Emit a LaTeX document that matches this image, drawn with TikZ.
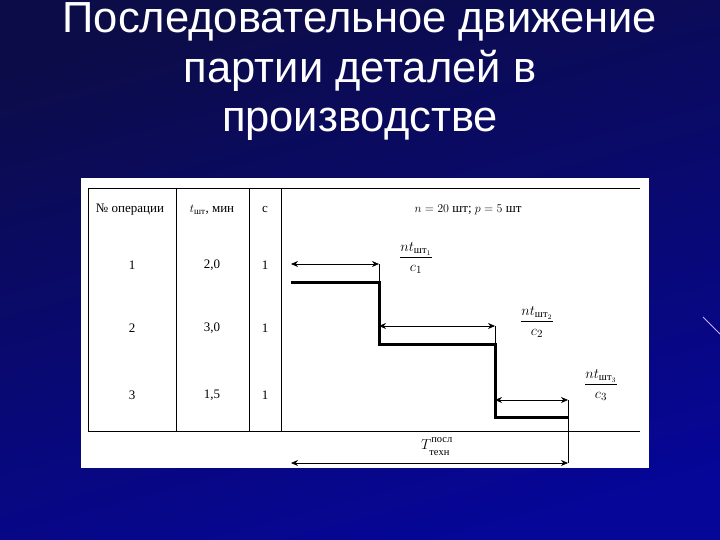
\documentclass[tikz,border=0pt]{standalone}
\usepackage{amsmath}
\usepackage{fontspec}
\setmainfont{Liberation Serif}
\newfontfamily\titlefont{Liberation Sans}
\usetikzlibrary{arrows.meta}
\definecolor{slidedark}{RGB}{12,12,72}
\definecolor{slidelight}{RGB}{6,6,152}
\definecolor{streak}{RGB}{205,175,255}
\tikzset{
  tabline/.style={black,line width=0.8pt},
  stepline/.style={black,line width=3pt},
  dimline/.style={black,line width=0.7pt,{Stealth[length=7pt,width=6pt]}-{Stealth[length=7pt,width=6pt]}},
  tick/.style={black,line width=0.7pt},
  cell/.style={font=\fontsize{13}{15}\selectfont,inner sep=1pt},
  mathcell/.style={font=\fontsize{15}{17}\selectfont,inner sep=1pt},
  titletext/.style={text=white,font=\titlefont\fontsize{43.5}{50}\selectfont,anchor=base}
}
\begin{document}
\begin{tikzpicture}[x=1pt,y=-1pt]
      \def\xa{88};
      \def\xb{176};
      \def\xc{249};
      \def\xd{281};
      \def\xe{640};
      \def\ytop{188};
      \def\ybot{431};
      \useasboundingbox (0,0) rectangle (720,540);
      \shade[top color=slidedark,bottom color=slidelight,shading angle=15] (0,0) rectangle (720,540);
      \draw[streak,line width=1pt] (703,317) -- (720,334);
      % title
      \node[titletext] (title1) at (360,33) {Последовательное движение};
      \node[titletext] (title2) at (360,83) {партии деталей в};
      \node[titletext] (title3) at (360,132) {производстве};
      % table
      \fill[white] (81,178) rectangle (649,468);
      \draw[tabline] (\xe,\ytop) -- (\xa,\ytop) -- (\xa,\ybot) -- (\xe,\ybot);
      \foreach \x in {\xb,\xc,\xd}
        \draw[tabline] (\x,\ytop) -- (\x,\ybot);
      \node[cell] (hop) at (130,210) {№ операции};
      \node[cell] (ht) at (212,210) {$t_{\text{шт}}$, мин};
      \node[cell] (hc) at (265,210) {c};
      \node[cell] (hn) at (468,210) {$n=20$ шт; $p=5$ шт};
      \foreach \i/\t/\y in {1/{2,0}/265,2/{3,0}/328,3/{1,5}/395} {
        \node[cell] (op\i) at (132,\y) {\i};
        \node[cell] (t\i) at (212,\y) {\t};
        \node[cell] (c\i) at (265,\y) {1};
      }
      % steps
      \coordinate (s0) at (291,282);
      \coordinate (s1) at (379,282);
      \coordinate (s1b) at (379,344);
      \coordinate (s2) at (495,344);
      \coordinate (s2b) at (495,417);
      \coordinate (s3) at (568,417);
      \draw[stepline] (s0) -- (s1) -- (s1b) -- (s2) -- (s2b) -- (s3);
      \coordinate (a1l) at (291,264);
      \coordinate (a1r) at (379,264);
      \coordinate (a2l) at (379,326);
      \coordinate (a2r) at (495,326);
      \coordinate (a3l) at (495,400);
      \coordinate (a3r) at (568,400);
      \coordinate (tl) at (291,463);
      \coordinate (tr) at (568,463);
      \draw[dimline] (a1l) -- (a1r);
      \draw[dimline] (a2l) -- (a2r);
      \draw[dimline] (a3l) -- (a3r);
      \draw[dimline] (tl) -- (tr);
      \draw[tick] (a1r) -- (s1);
      \draw[tick] (a2r) -- (s2);
      \draw[tick] (a3r) -- (tr);
      \node[mathcell] (f1) at (416,258) {$\dfrac{nt_{\text{шт}_1}}{c_1}$};
      \node[mathcell] (f2) at (537,322) {$\dfrac{nt_{\text{шт}_2}}{c_2}$};
      \node[mathcell] (f3) at (601,385) {$\dfrac{nt_{\text{шт}_3}}{c_3}$};
      \node[mathcell] (ttech) at (437,446) {$T^{\text{посл}\mathstrut}_{\mathstrut\text{техн}}$};
\end{tikzpicture}
\end{document}
